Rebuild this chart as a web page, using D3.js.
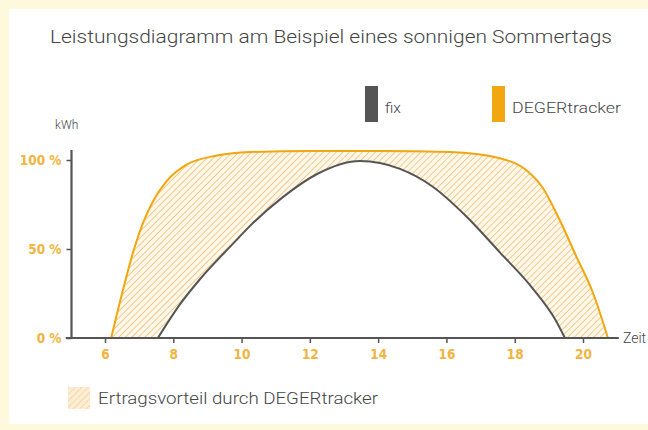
<!DOCTYPE html>
<html>
<head>
<meta charset="utf-8">
<script src="https://cdn.jsdelivr.net/npm/d3@7/dist/d3.min.js"></script>
<style>
  html, body { margin: 0; padding: 0; background: #fef9dc; }
  svg { display: block; }
</style>
</head>
<body>
<script>
// ---- Data ----
const title = "Leistungsdiagramm am Beispiel eines sonnigen Sommertags";
const xTicks = [6, 8, 10, 12, 14, 16, 18, 20];
const yTicks = [0, 50, 100];
const yTickLabels = ["0 %", "50 %", "100 %"];
const seriesNames = ["fix", "DEGERtracker"];
const areaLabel = "Ertragsvorteil durch DEGERtracker";

const trackerHours  = [6.18, 6.5, 6.82, 7.1, 7.41, 7.8, 8.4, 9.28, 10.25, 12, 14, 16.1, 17.57, 18.36, 18.8, 19.3, 19.8, 20.3, 20.73];
const trackerValues = [0,    25,  48,   64,  77,   88,  97.5, 102.5, 104.5, 105, 105, 104.5, 101, 94,   85,   67,   46,   25,   0];

const fixHours  = [7.55, 8.2, 8.78, 9.75, 10.25, 11.2, 12.2, 13.47, 14.64, 15.6, 16.6, 17.57, 18.5, 19.2, 19.47];
const fixValues = [0,    19,  33,   53,   63,    79,   92,   99.4,  95,    85,   68,   48,    28.5, 10,   0];

const tracker = trackerHours.map((h, i) => ({h, v: trackerValues[i]}));
const fix = fixHours.map((h, i) => ({h, v: fixValues[i]}));

// ---- Setup ----
const W = 648, H = 430;
const gold = "#f2b440", orange = "#f2a60f", grey = "#555555";

const svg = d3.select("body").append("svg").attr("width", W).attr("height", H);

svg.append("rect").attr("x", 0).attr("y", 0).attr("width", W).attr("height", H).attr("fill", "#fef9dc");
svg.append("rect").attr("x", 9).attr("y", 9).attr("width", W - 9).attr("height", 415).attr("fill", "#ffffff");

const defs = svg.append("defs");
const pat = defs.append("pattern")
  .attr("id", "hatch").attr("patternUnits", "userSpaceOnUse")
  .attr("width", 4.6).attr("height", 4.6)
  .attr("patternTransform", "rotate(45)");
pat.append("rect").attr("width", 4.6).attr("height", 4.6).attr("fill", "#fff7e8");
pat.append("line").attr("x1", 0).attr("y1", 0).attr("x2", 0).attr("y2", 4.6)
  .attr("stroke", "#ecbf78").attr("stroke-width", 1.5);

const x = d3.scaleLinear().domain([6, 20]).range([105, 583]);
const y = d3.scaleLinear().domain([0, 100]).range([338, 160]);

// ---- Title ----
svg.append("text").attr("x", 50).attr("y", 43)
  .attr("textLength", 562).attr("lengthAdjust", "spacingAndGlyphs")
  .attr("font-family", "Roboto, sans-serif").attr("font-size", 18.5).attr("font-weight", 300)
  .attr("fill", "#444").text(title);

// ---- Top legend ----
const legendColors = [grey, orange];
const legendX = [365, 492];
const legendTextW = [null, 109];
seriesNames.forEach((name, i) => {
  svg.append("rect").attr("x", legendX[i]).attr("y", 86).attr("width", 13).attr("height", 36)
    .attr("fill", legendColors[i]);
  const t = svg.append("text").attr("x", legendX[i] + 20).attr("y", 113)
    .attr("font-family", "Roboto, sans-serif").attr("font-size", 15.5).attr("font-weight", 300)
    .attr("fill", "#444").text(name);
  if (legendTextW[i]) t.attr("textLength", legendTextW[i]).attr("lengthAdjust", "spacingAndGlyphs");
});

// ---- Areas ----
const curve = d3.curveMonotoneX;
const areaT = d3.area().x(d => x(d.h)).y0(y(0)).y1(d => y(d.v)).curve(curve);
svg.append("path").datum(tracker).attr("d", areaT).attr("fill", "url(#hatch)");
svg.append("path").datum(fix).attr("d", areaT).attr("fill", "#ffffff");

// ---- Lines ----
const line = d3.line().x(d => x(d.h)).y(d => y(d.v)).curve(curve);
svg.append("path").datum(fix).attr("d", line).attr("fill", "none")
  .attr("stroke", grey).attr("stroke-width", 2);
svg.append("path").datum(tracker).attr("d", line).attr("fill", "none")
  .attr("stroke", orange).attr("stroke-width", 2);

// ---- Axes ----
const xAxis = d3.axisBottom(x).tickValues(xTicks).tickSize(5).tickSizeOuter(0).tickPadding(6);
const gx = svg.append("g").attr("transform", `translate(0,${y(0)})`).call(xAxis);
gx.select(".domain").remove();
gx.append("line").attr("x1", x(4.85)).attr("x2", x(21.05)).attr("y1", 0).attr("y2", 0)
  .attr("stroke", grey).attr("stroke-width", 2.2);
gx.selectAll(".tick line").attr("stroke", grey).attr("stroke-width", 1.5);
gx.selectAll(".tick text").attr("fill", gold).attr("font-family", "'DejaVu Sans Condensed', 'DejaVu Sans', sans-serif")
  .attr("font-weight", "bold").attr("font-size", 13.5);

const yAxis = d3.axisLeft(y).tickValues(yTicks).tickFormat((d, i) => yTickLabels[i])
  .tickSize(5).tickSizeOuter(0).tickPadding(5);
const gy = svg.append("g").attr("transform", "translate(71.5,0)").call(yAxis);
gy.select(".domain").remove();
gy.append("line").attr("x1", 0).attr("x2", 0).attr("y1", y(0)).attr("y2", 150)
  .attr("stroke", grey).attr("stroke-width", 2.2);
gy.selectAll(".tick line").attr("stroke", grey).attr("stroke-width", 1.5);
gy.selectAll(".tick text").attr("fill", gold).attr("font-family", "'DejaVu Sans Condensed', 'DejaVu Sans', sans-serif")
  .attr("font-weight", "bold").attr("font-size", 13.5);

// Axis titles
svg.append("text").attr("x", 55).attr("y", 129).attr("font-family", "Roboto, sans-serif")
  .attr("font-size", 12).attr("font-weight", 300).attr("fill", "#444").text("kWh");
svg.append("text").attr("x", 623).attr("y", 343).attr("font-family", "Roboto, sans-serif")
  .attr("font-size", 14).attr("font-weight", 300).attr("fill", "#444").text("Zeit");

// ---- Bottom legend ----
svg.append("rect").attr("x", 68).attr("y", 387).attr("width", 22).attr("height", 22)
  .attr("fill", "#fbe3bd");
svg.append("rect").attr("x", 68).attr("y", 387).attr("width", 22).attr("height", 22)
  .attr("fill", "url(#hatch)").attr("opacity", 0.5);
svg.append("text").attr("x", 98).attr("y", 404)
  .attr("textLength", 280).attr("lengthAdjust", "spacingAndGlyphs")
  .attr("font-family", "Roboto, sans-serif").attr("font-size", 16).attr("font-weight", 300)
  .attr("fill", "#444").text(areaLabel);
</script>
</body>
</html>
